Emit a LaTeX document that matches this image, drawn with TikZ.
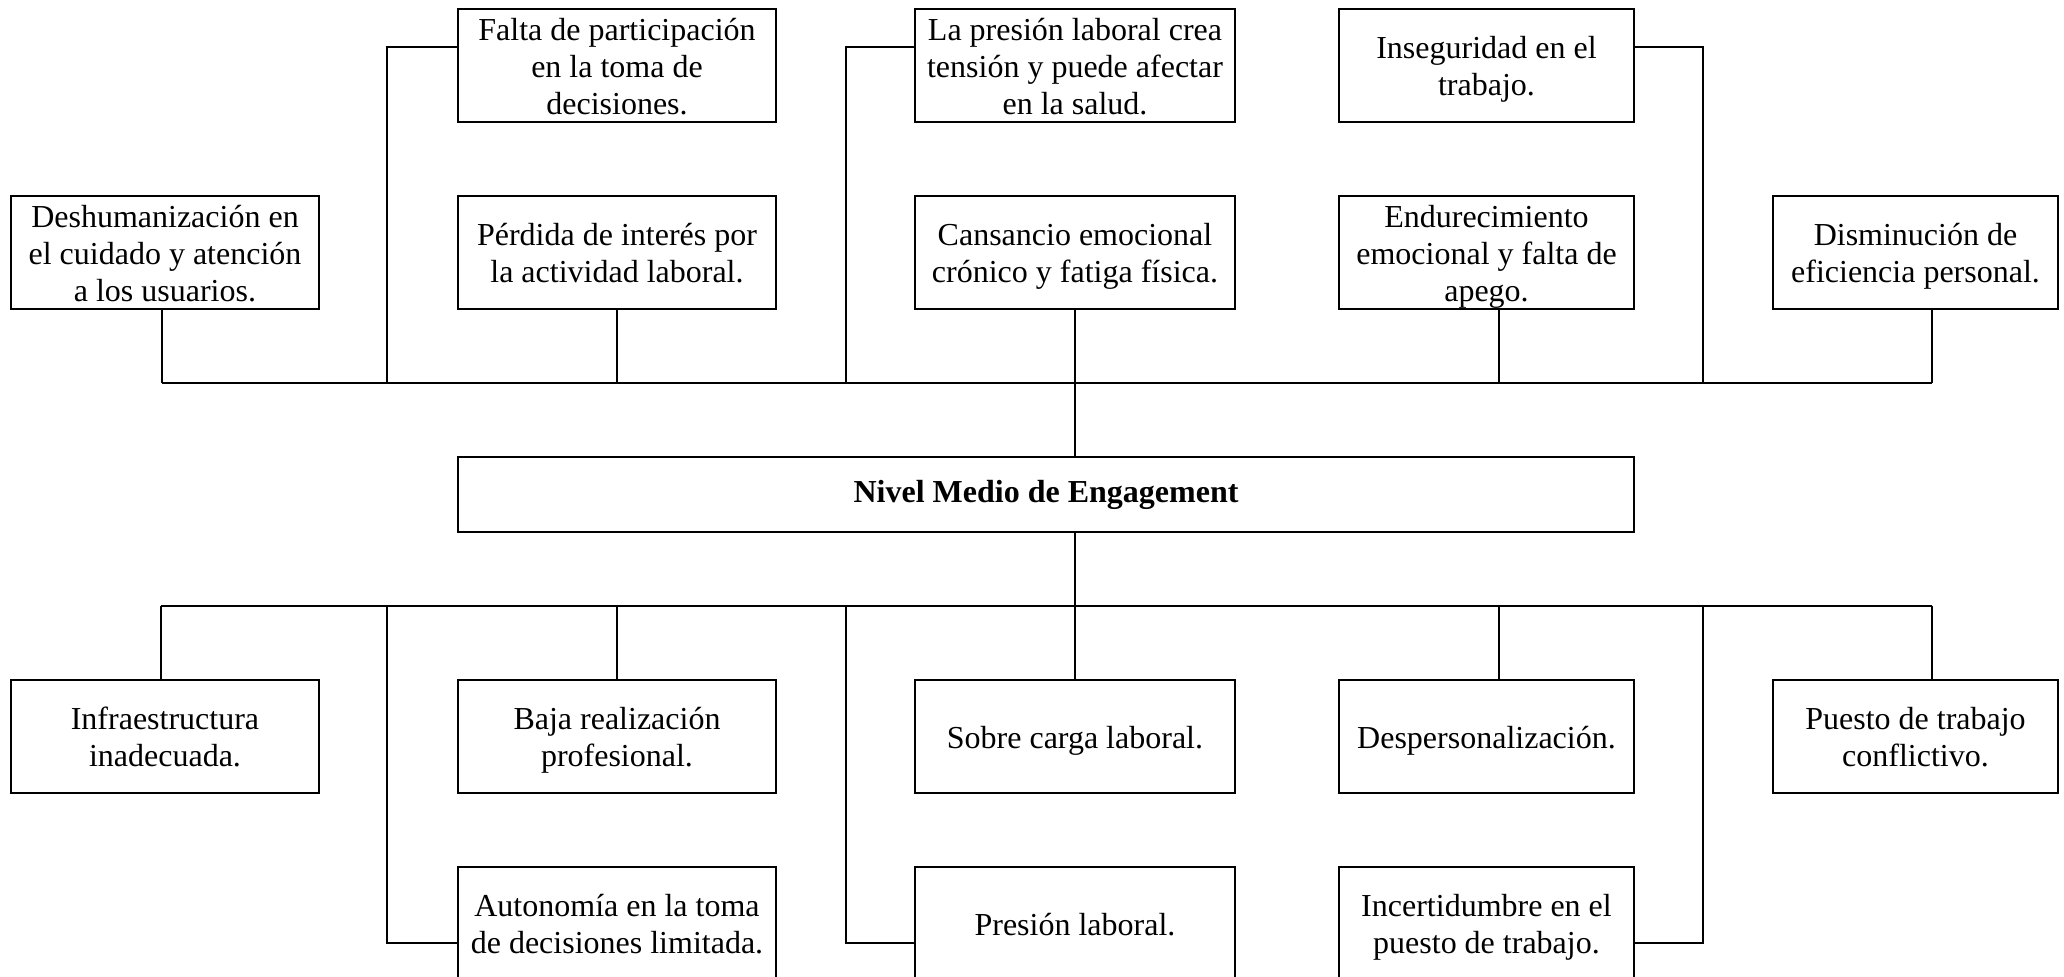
\documentclass[tikz,border=0pt]{standalone}
\usepackage{fontspec}
\setmainfont{Liberation Serif}
\newcommand{\lnstrut}{\rule[-7pt]{0pt}{37pt}}
\begin{document}
\begin{tikzpicture}[x=1pt,y=-1pt,
  box/.style={draw, line width=2pt, inner sep=0pt, align=center,
    minimum height=113pt, font=\fontsize{32}{37}\selectfont},
  colA/.style={minimum width=308pt},
  colB/.style={minimum width=318pt},
  colC/.style={minimum width=320pt},
  colD/.style={minimum width=295pt},
  colE/.style={minimum width=285pt},
  conn/.style={line width=1.5pt}]
\useasboundingbox (0,0) rectangle (2064,977);
\clip (0,0) rectangle (2064,977);
\fill[white] (0,0) rectangle (2064,977);

% helper coordinates
\coordinate (tb) at (0,383);
\coordinate (bb) at (0,606);
\coordinate (ty) at (0,47);
\coordinate (by) at (0,943);
\coordinate (ex1) at (387,0);
\coordinate (ex2) at (846,0);
\coordinate (ex3) at (1703,0);

% top row
\node[box,colB] (falta) at (617,65.5) {\lnstrut Falta de participación\\\lnstrut en la toma de\\\lnstrut decisiones.};
\node[box,colC] (lapres) at (1075,65.5) {\lnstrut La presión laboral crea\\\lnstrut tensión y puede afectar\\\lnstrut en la salud.};
\node[box,colD] (inseg) at (1486.5,65.5) {\lnstrut Inseguridad en el\\\lnstrut trabajo.};

% second row
\node[box,colA] (desh) at (165,252.5) {\lnstrut Deshumanización en\\\lnstrut el cuidado y atención\\\lnstrut a los usuarios.};
\node[box,colB] (perd) at (617,252.5) {\lnstrut Pérdida de interés por\\\lnstrut la actividad laboral.};
\node[box,colC] (cans) at (1075,252.5) {\lnstrut Cansancio emocional\\\lnstrut crónico y fatiga física.};
\node[box,colD] (endu) at (1486.5,252.5) {\lnstrut Endurecimiento\\\lnstrut emocional y falta de\\\lnstrut apego.};
\node[box,colE] (dism) at (1915.5,252.5) {\lnstrut Disminución de\\\lnstrut eficiencia personal.};

% central
\node[box,minimum width=1176pt,minimum height=75pt] (nivel) at (1046,494.5) {\textbf{Nivel Medio de Engagement}};

% third row
\node[box,colA] (infra) at (165,736.5) {\lnstrut Infraestructura\\\lnstrut inadecuada.};
\node[box,colB] (baja) at (617,736.5) {\lnstrut Baja realización\\\lnstrut profesional.};
\node[box,colC] (sobre) at (1075,736.5) {\lnstrut Sobre carga laboral.};
\node[box,colD] (desp) at (1486.5,736.5) {\lnstrut Despersonalización.};
\node[box,colE] (puesto) at (1915.5,736.5) {\lnstrut Puesto de trabajo\\\lnstrut conflictivo.};

% fourth row
\node[box,colB] (auto) at (617,923.5) {\lnstrut Autonomía en la toma\\\lnstrut de decisiones limitada.};
\node[box,colC] (presl) at (1075,923.5) {\lnstrut Presión laboral.};
\node[box,colD] (incer) at (1486.5,923.5) {\lnstrut Incertidumbre en el\\\lnstrut puesto de trabajo.};

% top bus
\draw[conn] ([xshift=-3pt]desh.south |- tb) -- ([xshift=16.5pt]dism.south |- tb);
\draw[conn] ([xshift=-3pt]desh.south) -- ([xshift=-3pt]desh.south |- tb);
\draw[conn] (perd.south) -- (perd.south |- tb);
\draw[conn] ([xshift=12.5pt]endu.south) -- ([xshift=12.5pt]endu.south |- tb);
\draw[conn] ([xshift=16.5pt]dism.south) -- ([xshift=16.5pt]dism.south |- tb);
\draw[conn] (falta.north west |- ty) -- (ex1 |- ty) -- (ex1 |- tb);
\draw[conn] (lapres.north west |- ty) -- (ex2 |- ty) -- (ex2 |- tb);
\draw[conn] (inseg.north east |- ty) -- (ex3 |- ty) -- (ex3 |- tb);
\draw[conn] (cans.south) -- (nivel.north -| cans.south);

% bottom bus
\draw[conn] (nivel.south -| sobre.north) -- (sobre.north);
\draw[conn] ([xshift=-4pt]infra.north |- bb) -- ([xshift=16.5pt]puesto.north |- bb);
\draw[conn] ([xshift=-4pt]infra.north) -- ([xshift=-4pt]infra.north |- bb);
\draw[conn] (baja.north) -- (baja.north |- bb);
\draw[conn] ([xshift=12.5pt]desp.north) -- ([xshift=12.5pt]desp.north |- bb);
\draw[conn] ([xshift=16.5pt]puesto.north) -- ([xshift=16.5pt]puesto.north |- bb);
\draw[conn] (auto.north west |- by) -- (ex1 |- by) -- (ex1 |- bb);
\draw[conn] (presl.north west |- by) -- (ex2 |- by) -- (ex2 |- bb);
\draw[conn] (incer.north east |- by) -- (ex3 |- by) -- (ex3 |- bb);
\end{tikzpicture}
\end{document}
